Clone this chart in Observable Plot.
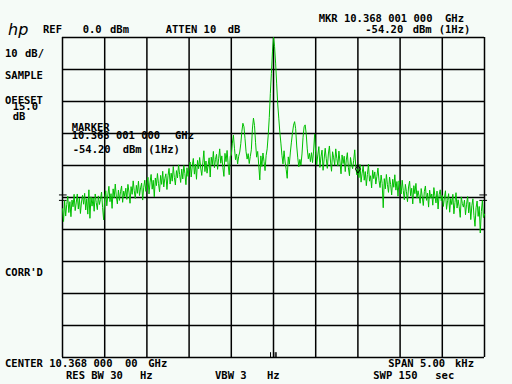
<!DOCTYPE html>
<html><head><meta charset="utf-8">
<script src="https://cdn.jsdelivr.net/npm/d3@7"></script>
<script src="https://cdn.jsdelivr.net/npm/@observablehq/plot@0.6"></script>
<style>
html,body{margin:0;padding:0;background:#f5fbf7;}
#chart{width:512px;height:384px;}
</style></head><body><div id="chart"></div>
<script>
// Sweep: -2500 Hz .. +2500 Hz around 10.368 000 00 GHz, 12.5 Hz per point
const sweepStartHz = -2500;
const sweepStepHz = 12.5;
// Trace amplitude in dBm (401 points)
const traceDbm = [
-53.5,-57.5,-51.0,-55.8,-52.2,-49.6,-54.7,-51.3,-56.0,-50.8,-52.9,-49.0,-54.1,-51.7,-48.9,-53.6,-50.2,-55.0,-51.4,-49.3,
-52.1,-48.7,-53.9,-50.4,-55.2,-47.6,-56.5,-49.8,-52.7,-50.1,-54.3,-48.9,-51.6,-53.8,-49.5,-52.2,-50.6,-48.3,-53.1,-57.0,
-50.4,-47.9,-52.6,-49.2,-46.5,-51.3,-48.8,-53.4,-47.3,-50.1,-45.8,-49.6,-52.0,-47.7,-50.9,-48.2,-46.4,-51.5,-48.0,-49.7,
-47.1,-50.6,-45.9,-48.3,-51.8,-46.6,-49.0,-44.8,-47.9,-50.3,-46.2,-48.7,-44.9,-49.4,-47.0,-45.5,-50.8,-46.8,-44.6,-48.1,
-46.0,-43.7,-48.9,-45.2,-42.8,-47.4,-44.6,-49.8,-43.9,-46.3,-42.5,-45.7,-48.2,-43.1,-45.9,-41.8,-46.7,-44.0,-42.6,-47.5,
-43.2,-40.9,-45.8,-42.4,-44.9,-40.3,-43.7,-46.1,-41.6,-43.9,-39.8,-42.8,-45.3,-41.1,-44.2,-40.0,-42.5,-46.0,-40.7,-43.4,
-41.2,-38.9,-43.6,-40.1,-37.8,-42.7,-39.6,-44.3,-38.4,-41.0,-37.5,-40.8,-43.1,-39.2,-35.4,-41.9,-38.6,-42.4,-39.9,-37.6,
-43.6,-37.4,-39.8,-35.6,-40.7,-38.1,-36.5,-41.2,-37.9,-34.8,-39.3,-37.0,-40.6,-43.4,-36.2,-38.8,-35.3,-39.6,-42.9,-37.2,
-36.8,-33.0,-30.5,-34.6,-38.2,-36.4,-39.5,-37.1,-35.8,-33.2,-29.4,-26.8,-27.9,-31.6,-35.7,-38.0,-36.3,-39.4,-37.2,-35.1,
-28.6,-25.2,-27.5,-32.9,-37.4,-35.6,-39.8,-44.5,-37.0,-40.3,-36.1,-38.7,-41.6,-36.9,-34.8,-30.5,-25.0,-17.5,-11.2,-4.5,
0.0,-2.8,-8.0,-14.5,-20.8,-25.2,-29.6,-33.0,-36.8,-39.5,-35.4,-38.9,-41.2,-44.0,-37.3,-39.6,-35.8,-32.7,-29.8,-27.4,
-26.3,-28.5,-33.9,-37.6,-40.4,-38.1,-39.9,-36.4,-31.2,-27.9,-27.3,-30.1,-34.8,-37.9,-36.2,-38.8,-36.0,-39.1,-35.5,-30.2,
-35.9,-39.8,-36.7,-34.1,-40.6,-37.3,-35.2,-41.5,-38.0,-34.6,-37.9,-40.9,-36.4,-33.9,-38.6,-41.8,-35.7,-37.6,-39.9,-34.8,
-37.8,-40.2,-35.5,-38.9,-42.6,-36.7,-39.4,-37.1,-41.9,-38.3,-36.0,-40.7,-43.2,-37.5,-39.8,-41.0,-38.4,-35.1,-40.6,-42.9,
-41.1,-43.8,-39.7,-45.2,-42.4,-40.1,-44.6,-41.9,-46.3,-42.8,-39.6,-44.9,-43.2,-47.0,-41.5,-44.1,-42.0,-45.8,-43.4,-40.8,
-44.7,-46.9,-43.0,-45.6,-53.2,-44.1,-47.3,-42.8,-46.0,-48.4,-43.6,-45.9,-49.2,-44.3,-46.8,-42.9,-47.7,-45.0,-49.6,-44.8,
-46.4,-48.9,-44.6,-47.8,-50.7,-45.9,-48.2,-51.3,-46.7,-44.9,-49.5,-47.1,-52.0,-46.3,-48.8,-45.6,-50.2,-47.9,-49.6,-51.8,
-47.2,-49.8,-52.5,-48.1,-46.4,-50.9,-48.6,-53.0,-47.7,-50.2,-48.9,-52.4,-46.9,-49.5,-51.7,-48.0,-53.6,-49.1,-47.6,-51.0,
-49.4,-52.8,-50.1,-47.9,-53.7,-51.0,-48.8,-54.6,-50.3,-52.2,-49.0,-55.1,-51.6,-48.5,-53.3,-50.7,-52.9,-56.2,-49.8,-51.9,
-53.0,-50.8,-55.4,-52.1,-49.7,-54.8,-51.5,-56.9,-52.6,-50.4,-55.7,-59.0,-53.2,-51.1,-55.9,-52.8,-61.1,-54.4,-50.9,-56.3,
-55.2
];
// Graticule (Hz offsets and dBm levels)
const freqGridHz = [-2500,-2000,-1500,-1000,-500,0,500,1000,1500,2000,2500];
const levelGridDbm = [0,-10,-20,-30,-40,-50,-60,-70,-80,-90,-100];
// Marker at +1 kHz
const markerHz = 1000;
// Display-line marks at left/right edges
const displayLineDbm = [-49.2,-50.9];
// Small ticks at the bottom near centre
const bottomTickHz = [-35,20,32];

// Annotation texts
const labelTexts = ["REF","0.0","dBm","ATTEN 10","dB","MKR 10.368 001 000","GHz","-54.20","dBm","(1Hz)",
"10","dB/","SAMPLE","OFFSET","15.0","dB","MARKER","10.368 001 000","GHz","-54.20","dBm","(1Hz)","CORR'D",
"CENTER 10.368 000","00","GHz","RES BW 30","Hz","VBW 3","Hz","SPAN 5.00","kHz","SWP 150","sec"];

const trace = traceDbm.map((v,i)=>({f: sweepStartHz + i*sweepStepHz, v}));
const markerPoint = trace.find(d => d.f === markerHz);

const plot = Plot.plot({
  width:512, height:384,
  marginLeft:62, marginRight:28, marginTop:37, marginBottom:27,
  style:{background:"#f5fbf7", overflow:"visible"},
  x:{domain:[-2500,2500], axis:null},
  y:{domain:[-100,0], axis:null},
  marks:[
    Plot.ruleX(freqGridHz,{stroke:"#000", strokeWidth:1.5}),
    Plot.ruleY(levelGridDbm,{stroke:"#000", strokeWidth:1.5}),
    Plot.ruleY(displayLineDbm,{y:d=>d, x1:()=>-2536, x2:()=>-2445, stroke:"#000", strokeWidth:1}),
    Plot.ruleY(displayLineDbm,{y:d=>d, x1:()=>2445, x2:()=>2536, stroke:"#000", strokeWidth:1}),
    Plot.ruleX(bottomTickHz,{x:d=>d, y1:()=>-98.5, y2:()=>-100, stroke:"#000", strokeWidth:1}),
    Plot.line(trace,{x:"f", y:"v", stroke:"#00c000", strokeWidth:1}),
    Plot.dot([markerPoint],{x:"f", y:"v", symbol:"diamond", r:2.5, stroke:"#000", fill:"none", strokeWidth:1})
  ]
});
document.getElementById("chart").appendChild(plot);

const pos = [[43,33],[82.7,33],[110,33],[165.7,33],[227.7,33],[318.7,22],[445,22],[365.3,32.7],[412.7,32.7],[438.7,32.7],
[5,57.3],[25,57.3],[5,79.3],[5,104],[12.7,109.5],[12.7,120],[71.7,130.7],[71.7,139.3],[175,139.3],[72.7,153.3],[122.7,153.3],[148.3,153.3],[5,276],
[5,367.3],[125,367.3],[148.3,367.3],[66,379.3],[140,379.3],[215,379.3],[267,379.3],[388.3,367.3],[455,367.3],[373.3,379.3],[435.3,379.3]];
const svg = d3.select(plot);
const g = svg.append("g")
  .attr("font-family","'DejaVu Sans Mono', monospace")
  .attr("font-weight","bold").attr("font-size","10.5px").attr("fill","#000")
  .attr("text-anchor","start");
labelTexts.forEach((t,i)=>{
  g.append("text").attr("x",pos[i][0]).attr("y",pos[i][1]).attr("text-anchor","start")
   .attr("xml:space","preserve").text(t);
});
// hp logo
svg.append("text").attr("x",8).attr("y",35).attr("text-anchor","start").attr("font-family","'DejaVu Sans', sans-serif")
  .attr("font-style","italic").attr("font-size","16px").attr("fill","#000").text("hp");
</script></body></html>
